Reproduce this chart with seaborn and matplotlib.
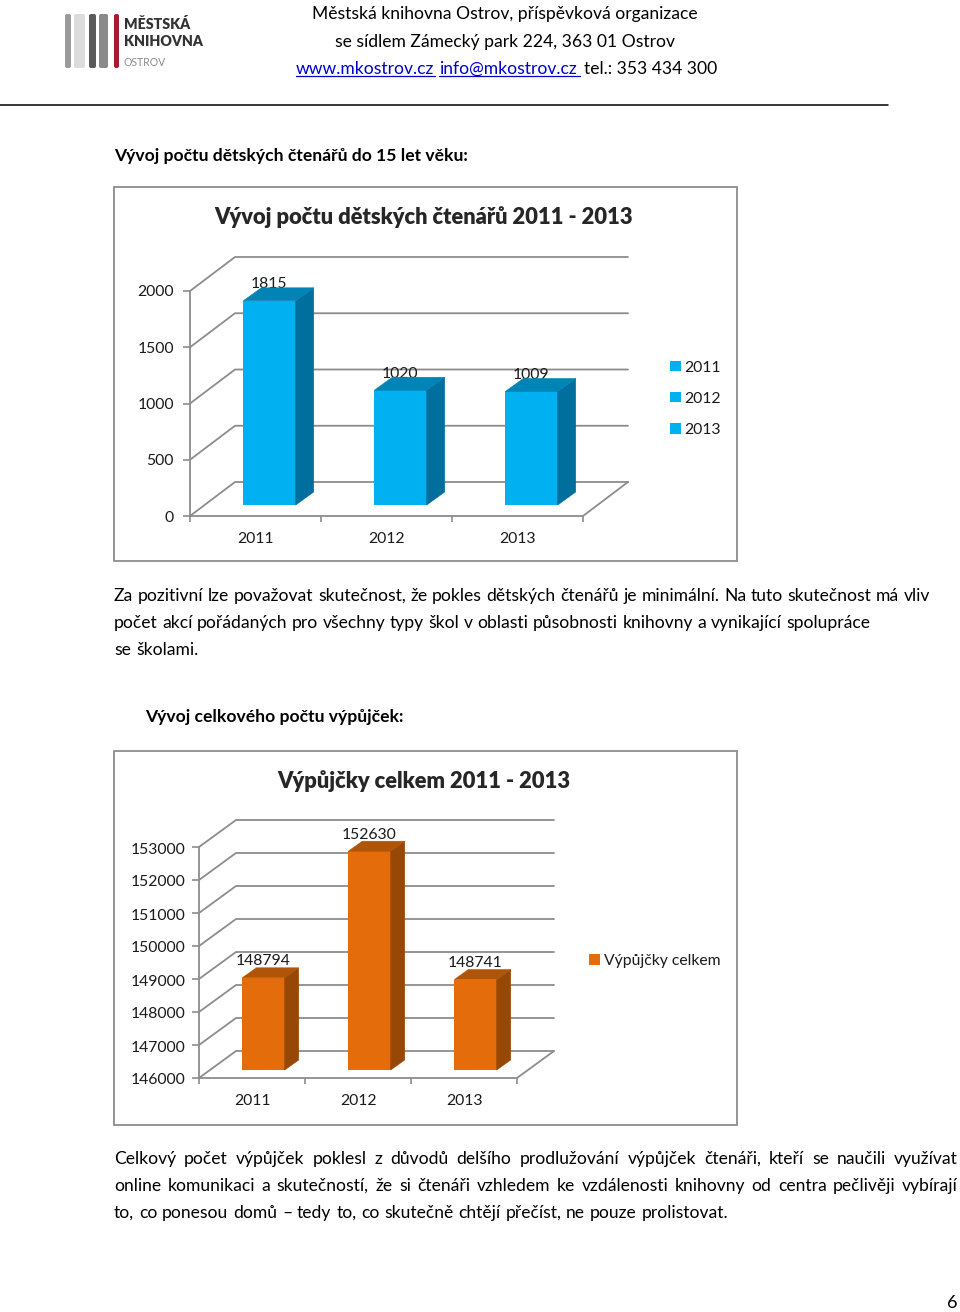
import matplotlib
matplotlib.use('Agg')
import matplotlib.pyplot as plt
import pandas as pd
import seaborn as sns
from matplotlib.lines import Line2D
from matplotlib.patches import FancyBboxPatch, Polygon, Rectangle
from matplotlib.transforms import Affine2D

readers_years = ['2011', '2012', '2013']
readers_values = [1815, 1020, 1009]
readers_ticks = [0, 500, 1000, 1500, 2000]
loans_years = ['2011', '2012', '2013']
loans_values = [148794, 152630, 148741]
loans_ticks = [146000, 147000, 148000, 149000, 150000, 151000, 152000, 153000]
loans_series = ['Výpůjčky celkem']

header_lines = ['Městská knihovna Ostrov, příspěvková organizace',
                'se sídlem Zámecký park 224, 363 01 Ostrov']
para1 = ['Za pozitivní lze považovat skutečnost, že pokles dětských čtenářů je minimální. Na tuto skutečnost má vliv',
         'počet akcí pořádaných pro všechny typy škol v oblasti působnosti knihovny a vynikající spolupráce',
         'se školami.']
para2 = ['Celkový počet výpůjček poklesl z důvodů delšího prodlužování výpůjček čtenáři, kteří se naučili využívat',
         'online komunikaci a skutečností, že si čtenáři vzhledem ke vzdálenosti knihovny od centra pečlivěji vybírají',
         'to, co ponesou domů – tedy to, co skutečně chtějí přečíst, ne pouze prolistovat.']

GRID = '#8c8c8c'
TEXT = '#1a1a1a'
PAGE_FS = 12.6
CHART_FS = 11.3

sns.set_theme(style='white')
plt.rcParams['font.family'] = ['Lato', 'DejaVu Sans']

fig = plt.figure(figsize=(9.6, 13.12), dpi=100)
page = fig.add_axes([0, 0, 1, 1], zorder=0)
page.set_xlim(0, 960)
page.set_ylim(1312, 0)
page.axis('off')
renderer = fig.canvas.get_renderer()


def fit_line(x0, x1, y, text, **kw):
    # place word by word so the line ends where it ends on the page
    words = text.split(' ')
    items = [page.text(0, y + 1, w, va='center', ha='left', **kw) for w in words]
    widths = [t.get_window_extent(renderer).width for t in items]
    gap = (x1 - x0 - sum(widths)) / (len(words) - 1)
    x = x0
    for t, w in zip(items, widths):
        t.set_x(x)
        x += w + gap


def page_text(x, y, s, **kw):
    kw.setdefault('fontsize', PAGE_FS)
    kw.setdefault('color', 'black')
    return page.text(x, y + 1, s, va='center', **kw)


def draw_chart(box, plot_box, years, values, ticks, series, colors, back, shift, depth, bar_w, legend_at, legend_space,
               ytick_pad, ytick_drop):
    page.add_patch(Rectangle((box[0], box[1]), box[2] - box[0], box[3] - box[1], fc='white', ec=GRID, lw=1.3))
    x0, x1, y_top, y_bottom = plot_box
    ax = fig.add_axes([x0 / 960, 1 - y_bottom / 1312, (x1 - x0) / 960, (y_bottom - y_top) / 1312], zorder=1)
    ax.patch.set_alpha(0)
    df = pd.DataFrame({'year': years, 'value': values, 'series': series})
    face, side, top = colors
    sns.barplot(df, x='year', y='value', hue='series', dodge=False, width=bar_w, palette=[face] * len(set(series)),
                saturation=1, ax=ax, zorder=4, legend='full', linewidth=0)
    ax.set_xlim(-0.5, len(years) - 0.5)
    ax.set_ylim(ticks[0], ticks[-1])
    ax.set_xlabel('')
    ax.set_ylabel('')
    ax.set_yticks(ticks)
    ax.set_xticks([i - 0.5 for i in range(len(years) + 1)], minor=True)
    sns.despine(ax=ax)
    for s in ['left', 'bottom']:
        ax.spines[s].set_color(GRID)
        ax.spines[s].set_linewidth(1.3)
    ax.tick_params(axis='x', which='major', length=0, pad=11.5, labelsize=CHART_FS, labelcolor=TEXT)
    ax.tick_params(axis='x', which='minor', bottom=True, length=4, width=1.2, color=GRID)
    ax.tick_params(axis='y', left=True, length=5, width=1.2, color=GRID, pad=ytick_pad, labelsize=CHART_FS, labelcolor=TEXT)
    for lab in ax.get_yticklabels():
        lab.set_transform(lab.get_transform() + Affine2D().translate(0, -ytick_drop))

    # walls: each tick runs back and along the rear plane
    bx, by = back
    lim = ax.get_xlim()
    rear = ax.transData + Affine2D().translate(bx, by)
    for v in ticks:
        p0 = ax.transData.transform((lim[0], v))
        p1 = rear.transform((lim[0], v))
        p2 = rear.transform((lim[1], v))
        ax.add_line(Line2D([p0[0], p1[0], p2[0]], [p0[1], p1[1], p2[1]], transform=None, color=GRID, lw=1.3,
                           clip_on=False, zorder=1))
    p0 = ax.transData.transform((lim[1], ticks[0]))
    p1 = rear.transform((lim[1], ticks[0]))
    ax.add_line(Line2D([p0[0], p1[0]], [p0[1], p1[1]], transform=None, color=GRID, lw=1.3, clip_on=False, zorder=1))

    # bars stand in the middle of the floor and get their side and top faces
    sx, sy = shift
    dx, dy = depth
    bar_tf = Affine2D().translate(sx, sy)
    rects = [r for c in ax.containers for r in c if r.get_height() > 0]
    for rect, v in zip(rects, values):
        rect.set_y(ticks[0])
        rect.set_height(v - ticks[0])
        rect.set_transform(ax.transData + bar_tf)
        rect.set_clip_on(False)
        xa = rect.get_x()
        xb = xa + rect.get_width()
        (ax0, ay0), (ax1, ay1) = (ax.transData + bar_tf).transform([(xa, ticks[0]), (xb, v)])
        ax.add_patch(Polygon([(ax1, ay0), (ax1 + dx, ay0 + dy), (ax1 + dx, ay1 + dy), (ax1, ay1)], transform=None,
                             fc=side, ec=side, lw=0.4, clip_on=False, zorder=4))
        ax.add_patch(Polygon([(ax0, ay1), (ax0 + dx, ay1 + dy), (ax1 + dx, ay1 + dy), (ax1, ay1)], transform=None,
                             fc=top, ec=top, lw=0.4, clip_on=False, zorder=4))
        ax.annotate(str(v), ((xa + xb) / 2, v), xytext=((sx - 0.7) * 0.72, (sy + 16.5) * 0.72), textcoords='offset points',
                    ha='center', va='center', fontsize=CHART_FS, color=TEXT, zorder=2, annotation_clip=False)

    sns.move_legend(ax, 'upper left', bbox_to_anchor=(legend_at[0] / 960, 1 - legend_at[1] / 1312),
                    bbox_transform=fig.transFigure, title=None, frameon=False, fontsize=CHART_FS, labelcolor=TEXT,
                    borderpad=0, borderaxespad=0, handlelength=0.68, handleheight=0.68, handletextpad=0.25,
                    labelspacing=legend_space)
    return ax


# page furniture
page.add_line(Line2D([0, 888], [105, 105], color='black', lw=1.1))
for (xa, xb, col) in [(65, 71, '#9a9a9a'), (74, 85, '#dcdcdc'), (89, 96, '#5a5a5a'), (99, 108, '#8a8a8a'), (114, 119, '#a51c30')]:
    page.add_patch(FancyBboxPatch((xa, 14), xb - xa, 54, boxstyle='round,pad=0,rounding_size=2', fc=col, ec='none'))
page.text(124, 24, 'MĚSTSKÁ', fontsize=10.2, fontweight='heavy', color='#333333', va='center')
page.text(124, 41, 'KNIHOVNA', fontsize=10.2, fontweight='heavy', color='#333333', va='center')
page.text(124, 63, 'OSTROV', fontsize=7.6, color='#8a8a8a', va='center')

page_text(505, 13.5, header_lines[0], ha='center')
page_text(505, 40.5, header_lines[1], ha='center')
page_text(296, 67.5, 'www.mkostrov.cz', color='#0000cc')
page_text(439, 67.5, 'info@mkostrov.cz', color='#0000cc')
page_text(584, 67.5, 'tel.: 353 434 300')
page.add_line(Line2D([296, 435], [76, 76], color='#0000cc', lw=0.9))
page.add_line(Line2D([439, 580], [76, 76], color='#0000cc', lw=0.9))

page_text(114, 155, 'Vývoj počtu dětských čtenářů do 15 let věku:', fontweight='bold')
page_text(145, 716, 'Vývoj celkového počtu výpůjček:', fontweight='bold')

fit_line(114, 930, 595, para1[0], fontsize=PAGE_FS, color='black')
fit_line(114, 870, 622, para1[1], fontsize=PAGE_FS, color='black')
fit_line(114, 199, 649, para1[2], fontsize=PAGE_FS, color='black')
fit_line(114, 958, 1158, para2[0], fontsize=PAGE_FS, color='black')
fit_line(114, 958, 1185, para2[1], fontsize=PAGE_FS, color='black')
fit_line(114, 728, 1212, para2[2], fontsize=PAGE_FS, color='black')
page_text(958, 1302, '6', fontsize=13, ha='right')

draw_chart((114, 187, 737, 561), (190, 583, 291, 516), readers_years, readers_values, readers_ticks, readers_years,
           ('#00b0f0', '#006f9e', '#0084b5'), (45, 34), (14, 11), (18, 13), 0.4, (670, 360.5), 1.09, 6.5, 0)
draw_chart((114, 751, 737, 1125), (199, 517, 847, 1078), loans_years, loans_values, loans_ticks, loans_series * 3,
           ('#e46c0a', '#974706', '#b05408'), (37, 27), (11.5, 8), (14, 10), 0.4, (589, 954), 1.0, 5, 1)

page.text(424, 217, 'Vývoj počtu dětských čtenářů 2011 - 2013', fontsize=15.75, fontweight='heavy', color='#262626',
          ha='center', va='center', zorder=5)
page.text(424, 781, 'Výpůjčky celkem 2011 - 2013', fontsize=15.75, fontweight='heavy', color='#262626',
          ha='center', va='center', zorder=5)

fig.savefig('out.png', dpi=100)
